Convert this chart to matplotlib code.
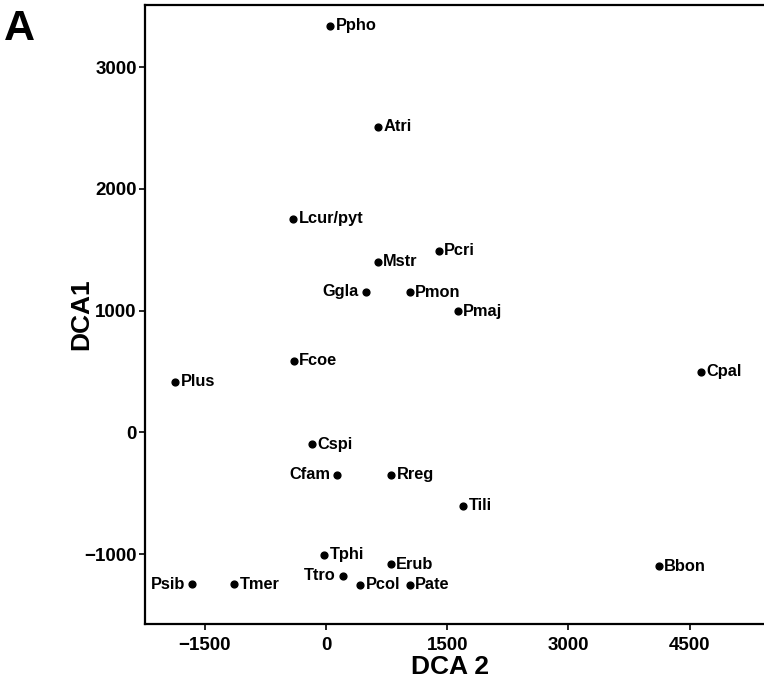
import matplotlib
matplotlib.use("Agg")
import matplotlib.pyplot as plt

matplotlib.rc("font", family=["Liberation Sans", "DejaVu Sans"], weight="bold")

# Species scores on the first two DCA axes
species = ["Ppho", "Atri", "Lcur/pyt", "Pcri", "Mstr", "Ggla", "Pmon",
           "Pmaj", "Cpal", "Fcoe", "Plus", "Cspi", "Cfam", "Rreg", "Tili",
           "Tphi", "Erub", "Bbon", "Ttro", "Psib", "Tmer", "Pcol", "Pate"]
dca2 = [50, 640, -410, 1395, 640, 495, 1035, 1630, 4635, -400, -1870,
        -175, 135, 810, 1695, -20, 800, 4115, 205, -1660, -1135, 420, 1035]
dca1 = [3340, 2510, 1755, 1490, 1400, 1155, 1150, 995, 500, 590, 415,
        -95, -345, -345, -600, -1005, -1080, -1100, -1175, -1245, -1245,
        -1250, -1250]
leftLabels = ["Ggla", "Cfam", "Ttro", "Psib"]

xticks = [-1500, 0, 1500, 3000, 4500]
yticks = [-1000, 0, 1000, 2000, 3000]

figure = plt.figure(figsize=(7.64, 6.86), dpi=100)
axes = figure.add_axes([145 / 764, 1 - 624 / 686, 1 - 145 / 764, 619 / 686])

axes.scatter(dca2, dca1, s=24, color="black", zorder=3)
for name, x, y in zip(species, dca2, dca1):
    if name in leftLabels:
        axes.annotate(name, (x, y), xytext=(-5, 0), textcoords="offset points",
                      ha="right", va="center", fontsize=11.8, fontweight="bold")
    else:
        axes.annotate(name, (x, y), xytext=(4, 0), textcoords="offset points",
                      ha="left", va="center", fontsize=11.8, fontweight="bold")

axes.set_xlim(-2240, 5420)
axes.set_ylim(-1572, 3509)
axes.set_xticks(xticks)
axes.set_yticks(yticks)
axes.tick_params(direction="out", length=4, width=1.2, labelsize=13.5)
axes.tick_params(axis="x", pad=5)
axes.tick_params(axis="y", pad=2)
for label in axes.get_xticklabels() + axes.get_yticklabels():
    label.set_fontweight("bold")
axes.spines["right"].set_visible(False)
for side in ["left", "bottom", "top"]:
    axes.spines[side].set_linewidth(1.6)
axes.xaxis.set_ticks_position("bottom")
axes.yaxis.set_ticks_position("left")

axes.set_xlabel("DCA 2", fontsize=19, fontweight="bold")
axes.set_ylabel("DCA1", fontsize=19, fontweight="bold")
axes.xaxis.set_label_coords(0.493, -0.050)
axes.yaxis.set_label_coords(-0.083, 0.5)
figure.text(4 / 764, 1 - 9 / 686, "A", fontsize=31, fontweight="bold",
            ha="left", va="top")

figure.savefig("out.png", dpi=100)
